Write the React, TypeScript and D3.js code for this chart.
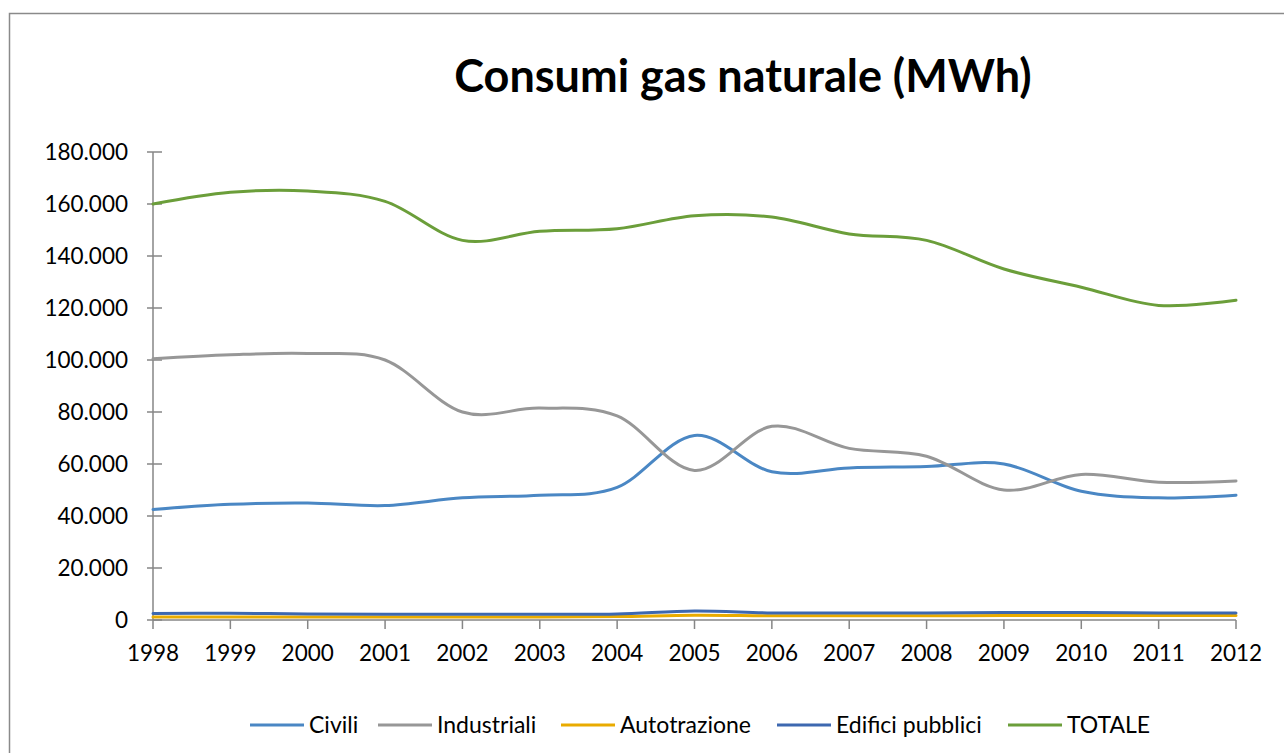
import React from "react";
import * as d3 from "d3";

const years = [1998, 1999, 2000, 2001, 2002, 2003, 2004, 2005, 2006, 2007, 2008, 2009, 2010, 2011, 2012];
const civili = [42500, 44500, 45000, 44000, 47000, 48000, 51000, 71000, 57000, 58500, 59000, 60000, 49500, 47000, 48000];
const industriali = [100500, 102000, 102500, 100000, 80000, 81500, 78500, 57500, 74500, 66000, 63000, 50000, 56000, 53000, 53500];
const autotrazione = [1200, 1200, 1200, 1200, 1200, 1200, 1300, 1800, 1600, 1600, 1600, 1700, 1700, 1700, 1700];
const edificiPubblici = [2500, 2600, 2300, 2200, 2200, 2200, 2300, 3500, 2700, 2700, 2700, 2900, 2900, 2700, 2700];
const totale = [160000, 164500, 165000, 161000, 146000, 149500, 150500, 155500, 155000, 148500, 146000, 135000, 128000, 121000, 123000];
const yTicks = [0, 20000, 40000, 60000, 80000, 100000, 120000, 140000, 160000, 180000];

const series = [
  { name: "Civili", values: civili, color: "#4A87C4" },
  { name: "Industriali", values: industriali, color: "#979797" },
  { name: "Autotrazione", values: autotrazione, color: "#E9AB00" },
  { name: "Edifici pubblici", values: edificiPubblici, color: "#3D68B0" },
  { name: "TOTALE", values: totale, color: "#6B9E3A" },
];

const legendX = [250, 378, 561, 777, 1008];

export default function App() {
  const font = "Lato, 'Open Sans', sans-serif";
  const x = d3.scaleLinear().domain([1998, 2012]).range([153, 1236]);
  const y = d3.scaleLinear().domain([0, 180000]).range([620, 152]);
  const line = d3
    .line<number>()
    .x((_, i) => x(years[i]))
    .y((d) => y(d))
    .curve(d3.curveCardinal.tension(0));
  const fmt = (v: number) => (v === 0 ? "0" : d3.format(",")(v).replace(/,/g, "."));
  const axisColor = "#868686";
  return (
    <svg width={1284} height={753} style={{ position: "absolute", left: 0, top: 0, background: "#fff" }}>
      <rect x={9.5} y={13.5} width={1400} height={800} fill="none" stroke="#8a8a8a" strokeWidth={1.5} />
      <text x={743} y={92} textAnchor="middle" fontFamily={font} fontWeight="bold" fontSize={45} fill="#000">
        Consumi gas naturale (MWh)
      </text>
      {/* y axis */}
      <line x1={153} x2={153} y1={y(180000)} y2={y(0)} stroke={axisColor} strokeWidth={1.5} />
      {yTicks.map((t) => (
        <g key={t}>
          <line x1={147} x2={162} y1={y(t)} y2={y(t)} stroke={axisColor} strokeWidth={1.5} />
          <text x={128} y={y(t)} dy="0.35em" textAnchor="end" fontFamily={font} fontSize={22.5} fill="#000">
            {fmt(t)}
          </text>
        </g>
      ))}
      {/* x axis */}
      <line x1={153} x2={1236} y1={y(0)} y2={y(0)} stroke={axisColor} strokeWidth={1.5} />
      {years.map((yr) => (
        <g key={yr}>
          <line x1={x(yr)} x2={x(yr)} y1={y(0)} y2={y(0) + 9} stroke={axisColor} strokeWidth={1.5} />
          <text x={x(yr)} y={653} dy="0.35em" textAnchor="middle" fontFamily={font} fontSize={22.5} fill="#000">
            {yr}
          </text>
        </g>
      ))}
      {series.map((s) => (
        <path key={s.name} d={line(s.values) || ""} fill="none" stroke={s.color} strokeWidth={3} strokeLinejoin="round" strokeLinecap="round" />
      ))}
      {series.map((s, i) => (
        <g key={s.name}>
          <line x1={legendX[i]} x2={legendX[i] + 54} y1={725} y2={725} stroke={s.color} strokeWidth={3} />
          <text x={legendX[i] + 59} y={725} dy="0.35em" fontFamily={font} fontSize={23} fill="#000">
            {s.name}
          </text>
        </g>
      ))}
    </svg>
  );
}
